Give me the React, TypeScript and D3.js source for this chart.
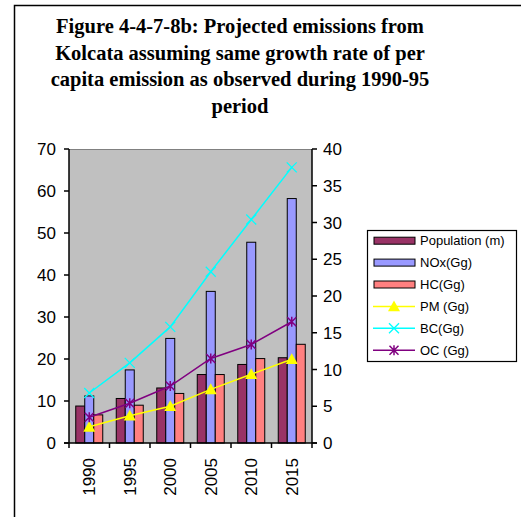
import React from "react";
import * as d3 from "d3";

const years = ["1990", "1995", "2000", "2005", "2010", "2015"];
const population = [8.8, 10.6, 13.1, 16.3, 18.7, 20.3];
const nox = [11.2, 17.4, 24.9, 36.1, 47.8, 58.2];
const hc = [6.7, 9.0, 11.8, 16.3, 20.1, 23.5];
const pm = [2.2, 3.7, 5.0, 7.3, 9.35, 11.4];
const bc = [6.8, 10.9, 15.8, 23.3, 30.4, 37.5];
const oc = [3.5, 5.4, 7.75, 11.5, 13.4, 16.5];
const leftTicks = [0, 10, 20, 30, 40, 50, 60, 70];
const rightTicks = [0, 5, 10, 15, 20, 25, 30, 35, 40];
const titleLines = [
  "Figure 4-4-7-8b: Projected emissions from",
  "Kolcata assuming same growth rate of per",
  "capita emission as observed during 1990-95",
  "period",
];

const barSeries = [
  { name: "Population (m)", values: population, color: "#993366" },
  { name: "NOx(Gg)", values: nox, color: "#9999FF" },
  { name: "HC(Gg)", values: hc, color: "#FF8080" },
];
const lineSeries = [
  { name: "PM (Gg)", values: pm, color: "#FFFF00", marker: "tri" },
  { name: "BC(Gg)", values: bc, color: "#00FFFF", marker: "x" },
  { name: "OC (Gg)", values: oc, color: "#800080", marker: "star" },
];

function Marker({ type, x, y, color }: { type: string; x: number; y: number; color: string }) {
  if (type === "tri") {
    const s = 6;
    return <path d={`M${x},${y - s} L${x + s},${y + s * 0.8} L${x - s},${y + s * 0.8} Z`} fill={color} />;
  }
  if (type === "x") {
    const s = 5;
    return (
      <path d={`M${x - s},${y - s} L${x + s},${y + s} M${x - s},${y + s} L${x + s},${y - s}`} stroke={color} strokeWidth={1.3} fill="none" />
    );
  }
  const s = 4.5;
  return (
    <path
      d={`M${x - s},${y - s} L${x + s},${y + s} M${x - s},${y + s} L${x + s},${y - s} M${x},${y - s - 0.5} L${x},${y + s + 0.5}`}
      stroke={color}
      strokeWidth={1.5}
      fill="none"
    />
  );
}

export default function App() {
  const W = 521, H = 517;
  const left = 69, right = 312, top = 149, bottom = 443;
  const x = d3.scaleBand<string>().domain(years).range([left, right]).paddingInner(0).paddingOuter(0);
  const yL = d3.scaleLinear().domain([0, 70]).range([bottom, top]);
  const yR = d3.scaleLinear().domain([0, 40]).range([bottom, top]);
  const bw = x.bandwidth();
  const barW = bw / 4.5;
  const groupOff = (bw - barW * 3) / 2;

  const line = (vals: number[]) =>
    d3.line<number>().x((_, i) => (x(years[i]) as number) + bw / 2).y((v) => yR(v))(vals) || "";

  const font = "Arial, 'Liberation Sans', sans-serif";
  const legX = 367, legY = 230, legW = 149, legH = 131;
  const rowH = 21.9;

  return (
    <svg width={W} height={H} style={{ position: "absolute", left: 0, top: 0, background: "#fff" }}>
      <rect x={0} y={0} width={W} height={H} fill="#fff" />
      {/* outer frame */}
      <path d={`M14.5,${H} L14.5,5.5 L${W},5.5`} stroke="#000" strokeWidth={1.5} fill="none" />
      {/* title */}
      {titleLines.map((t, i) => (
        <text
          key={i}
          x={240}
          y={33 + i * 26.5}
          textAnchor="middle"
          fontFamily="'Liberation Serif', 'Times New Roman', serif"
          fontWeight="bold"
          fontSize={20.5}
          fill="#000"
        >
          {t}
        </text>
      ))}
      {/* plot area */}
      <rect x={left} y={top} width={right - left} height={bottom - top} fill="#C0C0C0" />
      <line x1={left} x2={right} y1={top + 0.5} y2={top + 0.5} stroke="#808080" strokeWidth={1} />
      {/* bars */}
      {barSeries.map((s, si) =>
        s.values.map((v, i) => (
          <rect
            key={`${si}-${i}`}
            x={(x(years[i]) as number) + groupOff + si * barW}
            y={yL(v)}
            width={barW}
            height={bottom - yL(v)}
            fill={s.color}
            stroke="#000"
            strokeWidth={1}
          />
        ))
      )}
      {/* lines */}
      {lineSeries.map((s) => (
        <g key={s.name}>
          <path d={line(s.values)} stroke={s.color} strokeWidth={1.5} fill="none" />
          {s.values.map((v, i) => (
            <Marker key={i} type={s.marker} x={(x(years[i]) as number) + bw / 2} y={yR(v)} color={s.color} />
          ))}
        </g>
      ))}
      {/* left axis */}
      <line x1={left} x2={left} y1={top} y2={bottom} stroke="#000" strokeWidth={1.5} />
      {leftTicks.map((t) => (
        <g key={t}>
          <line x1={left - 5} x2={left} y1={yL(t)} y2={yL(t)} stroke="#000" strokeWidth={1.5} />
          <text x={56} y={yL(t)} dy="0.36em" textAnchor="end" fontFamily={font} fontSize={17} fill="#000">
            {t}
          </text>
        </g>
      ))}
      {/* right axis */}
      <line x1={right} x2={right} y1={top} y2={bottom} stroke="#000" strokeWidth={1.5} />
      {rightTicks.map((t) => (
        <g key={t}>
          <line x1={right} x2={right + 5} y1={yR(t)} y2={yR(t)} stroke="#000" strokeWidth={1.5} />
          <text x={323} y={yR(t)} dy="0.36em" textAnchor="start" fontFamily={font} fontSize={17} fill="#000">
            {t}
          </text>
        </g>
      ))}
      {/* bottom axis */}
      <line x1={left - 5} x2={right + 5} y1={bottom} y2={bottom} stroke="#000" strokeWidth={1.5} />
      {years.map((yv, i) => (
        <line key={`t${i}`} x1={(x(yv) as number)} x2={(x(yv) as number)} y1={bottom} y2={bottom + 5} stroke="#000" strokeWidth={1.5} />
      ))}
      <line x1={right} x2={right} y1={bottom} y2={bottom + 5} stroke="#000" strokeWidth={1.5} />
      {years.map((yv) => {
        const cx = (x(yv) as number) + bw / 2;
        return (
          <text
            key={yv}
            transform={`translate(${cx + 6},458) rotate(-90)`}
            textAnchor="end"
            fontFamily={font}
            fontSize={17}
            fill="#000"
          >
            {yv}
          </text>
        );
      })}
      {/* legend */}
      <rect x={legX + 0.5} y={legY + 0.5} width={legW} height={legH} fill="#fff" stroke="#000" strokeWidth={1.2} />
      {barSeries.map((s, i) => {
        const cy = 240.7 + i * rowH;
        return (
          <g key={s.name}>
            <rect x={374} y={cy - 3.5} width={41} height={7} fill={s.color} stroke="#000" strokeWidth={1} />
            <text x={420} y={cy} dy="0.35em" fontFamily={font} fontSize={13} fill="#000">
              {s.name}
            </text>
          </g>
        );
      })}
      {lineSeries.map((s, j) => {
        const cy = 240.7 + (j + 3) * rowH;
        return (
          <g key={s.name}>
            <line x1={373} x2={415} y1={cy} y2={cy} stroke={s.color} strokeWidth={1.5} />
            <Marker type={s.marker} x={394} y={cy} color={s.color} />
            <text x={420} y={cy} dy="0.35em" fontFamily={font} fontSize={13} fill="#000">
              {s.name}
            </text>
          </g>
        );
      })}
    </svg>
  );
}
